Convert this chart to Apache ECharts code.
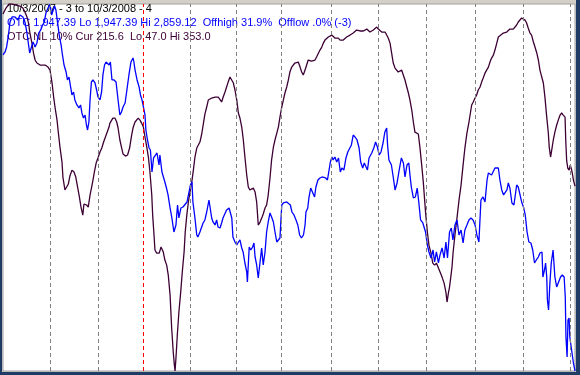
<!DOCTYPE html>
<html><head><meta charset="utf-8">
<script src="https://cdn.jsdelivr.net/npm/echarts@6/dist/echarts.min.js"></script>
<style>
html,body{margin:0;padding:0;width:580px;height:375px;overflow:hidden;background:#1f3c66;}
#frame{position:absolute;left:2px;top:0;width:574px;height:372px;background:#d4d0c8;}
#chart{position:absolute;left:0;top:0;width:580px;height:375px;}
</style></head><body>
<div id="frame"></div>
<div id="chart"></div>
<script>
// Header texts
const headerLines = [
  "10/3/2007 - 3 to 10/3/2008 - 4",
  "OTC 1,947.39 Lo 1,947.39 Hi 2,859.12  Offhigh 31.9%  Offlow .0% (-3)",
  "OTC NL 10% Cur 215.6  Lo 47.0 Hi 353.0"
];
// Trading-day index (0 = 10/3/2007, 253 = 10/3/2008)
const dayMin = 0, dayMax = 253;
// Month boundaries (trading-day index); Jan 2 2008 is the year line
const monthStarts = [21, 42, 62, 83, 103, 123, 145, 166, 187, 209, 230, 251];
const yearStart = 62;
// Scale ranges
const otcLo = 1947.39, otcHi = 2859.12;
const nlLo = 47.0, nlHi = 353.0;

// OTC (Nasdaq composite) close: [day, value]
const otcClose = [[0,2732.5],[0.9,2739.9],[1.6,2752.4],[2.3,2777.2],[3.1,2814.5],[4.0,2826.9],[5.3,2826.9],[6.6,2819.4],[7.5,2831.8],[8.8,2826.9],[9.7,2814.5],[10.6,2787.1],[11.8,2737.4],[12.6,2752.4],[13.3,2764.8],[14.2,2752.4],[15.0,2762.3],[15.8,2787.1],[16.7,2794.6],[17.5,2807.0],[18.3,2814.5],[19.0,2836.8],[19.9,2849.2],[20.8,2859.1],[21.5,2831.8],[22.1,2826.9],[22.8,2854.2],[23.4,2844.3],[24.1,2814.5],[25.0,2777.2],[25.7,2757.4],[26.3,2732.5],[27.0,2707.6],[27.9,2690.2],[28.5,2670.4],[29.2,2677.8],[29.9,2653.0],[30.5,2633.1],[31.2,2640.5],[31.8,2620.7],[32.7,2608.3],[33.6,2600.8],[34.3,2608.3],[34.9,2588.4],[35.6,2576.0],[36.3,2583.4],[36.9,2558.6],[37.4,2546.1],[38.0,2566.0],[38.5,2620.7],[39.1,2665.4],[39.8,2670.4],[40.7,2662.9],[41.4,2645.5],[42.0,2628.1],[42.9,2620.7],[43.6,2640.5],[44.2,2682.8],[44.9,2707.6],[45.6,2715.1],[46.2,2715.1],[46.9,2707.6],[47.5,2715.1],[48.2,2670.4],[49.1,2670.4],[50.0,2665.4],[50.9,2620.7],[51.7,2583.4],[52.4,2590.9],[53.1,2603.3],[54.0,2613.2],[54.8,2645.5],[55.7,2682.8],[56.6,2715.1],[57.5,2725.0],[57.9,2715.1],[58.4,2695.2],[59.3,2670.4],[60.2,2653.0],[60.8,2633.1],[61.5,2620.7],[62.1,2603.3],[62.8,2583.4],[63.2,2546.1],[63.9,2521.3],[64.6,2501.4],[65.2,2496.4],[65.9,2441.8],[66.6,2476.6],[67.2,2479.1],[68.1,2489.0],[69.0,2459.2],[69.4,2484.0],[70.3,2441.8],[71.6,2417.0],[72.3,2402.0],[73.0,2384.7],[73.9,2352.4],[74.7,2327.5],[75.6,2292.7],[76.5,2310.1],[77.2,2359.8],[77.8,2327.5],[78.7,2352.4],[79.6,2354.9],[81.4,2367.3],[82.3,2392.1],[82.9,2409.5],[83.6,2417.0],[84.0,2367.3],[84.9,2327.5],[85.7,2285.3],[86.2,2280.3],[87.1,2292.7],[88.5,2315.1],[89.3,2322.6],[90.1,2342.4],[91.1,2372.2],[92.3,2327.5],[92.9,2317.6],[93.8,2310.1],[94.5,2322.6],[95.1,2305.2],[96.0,2302.7],[96.7,2315.1],[97.3,2327.5],[98.9,2347.4],[100.0,2352.4],[101.2,2327.5],[101.7,2280.3],[102.6,2267.9],[103.4,2260.4],[103.9,2265.4],[104.8,2272.9],[105.6,2253.0],[106.2,2243.1],[107.0,2215.7],[107.8,2193.4],[108.1,2168.5],[108.9,2255.5],[109.6,2248.0],[110.4,2255.5],[111.0,2265.4],[111.5,2230.6],[112.2,2210.8],[112.9,2178.5],[113.4,2203.3],[114.4,2253.0],[115.1,2210.8],[115.9,2243.1],[116.6,2292.7],[117.3,2317.6],[118.1,2339.9],[118.8,2330.0],[119.6,2317.6],[120.3,2292.7],[121.1,2267.9],[121.8,2265.4],[122.5,2277.8],[123.3,2359.8],[124.0,2364.8],[125.5,2367.3],[126.2,2372.2],[127.1,2359.8],[127.8,2342.4],[128.7,2335.0],[129.6,2322.6],[130.4,2310.1],[131.2,2285.3],[132.0,2277.8],[132.9,2285.3],[133.6,2310.1],[134.0,2342.4],[134.8,2352.4],[135.3,2377.2],[136.1,2402.0],[136.9,2404.5],[137.8,2379.7],[138.4,2404.5],[139.3,2421.9],[140.2,2426.9],[141.1,2429.4],[142.7,2426.9],[143.5,2421.9],[144.2,2417.0],[144.8,2466.6],[145.5,2479.1],[146.0,2471.6],[146.8,2479.1],[147.6,2466.6],[148.4,2476.6],[149.2,2441.8],[149.9,2451.7],[150.8,2446.8],[151.7,2476.6],[152.5,2491.5],[153.3,2496.4],[154.1,2508.9],[154.9,2533.7],[155.7,2528.7],[156.6,2521.3],[157.5,2501.4],[158.2,2466.6],[159.1,2451.7],[159.8,2464.2],[160.6,2454.2],[161.2,2446.8],[161.9,2476.6],[163.1,2489.0],[164.0,2501.4],[164.8,2516.3],[165.6,2503.9],[166.4,2484.0],[167.2,2491.5],[168.1,2513.8],[168.9,2541.2],[169.7,2551.1],[170.1,2508.9],[170.7,2471.6],[171.8,2459.2],[172.6,2429.4],[173.4,2397.1],[174.3,2414.5],[175.1,2441.8],[176.2,2476.6],[177.1,2464.2],[177.8,2429.4],[178.7,2459.2],[179.5,2464.2],[180.0,2434.4],[180.6,2404.5],[181.5,2377.2],[182.4,2379.7],[183.2,2402.0],[183.9,2367.3],[184.7,2322.6],[185.7,2315.1],[186.9,2292.7],[187.7,2260.4],[188.4,2243.1],[189.3,2228.1],[190.2,2248.0],[190.9,2218.2],[191.7,2243.1],[192.6,2215.7],[193.3,2235.6],[194.2,2253.0],[195.1,2228.1],[195.9,2267.9],[196.6,2228.1],[197.5,2292.7],[198.3,2302.7],[199.0,2272.9],[199.9,2310.1],[200.8,2322.6],[201.7,2285.3],[202.6,2297.7],[203.5,2265.4],[204.3,2297.7],[205.2,2310.1],[206.1,2322.6],[207.0,2327.5],[207.9,2322.6],[208.8,2310.1],[209.6,2285.3],[210.5,2267.9],[211.4,2372.2],[212.3,2379.7],[213.2,2367.3],[214.1,2421.9],[214.7,2439.3],[215.4,2441.8],[216.1,2434.4],[216.9,2439.3],[217.6,2451.7],[218.4,2454.2],[219.1,2451.7],[219.8,2421.9],[220.6,2397.1],[221.4,2384.7],[222.0,2389.6],[222.9,2397.1],[223.5,2414.5],[224.2,2402.0],[225.1,2364.8],[226.0,2359.8],[227.2,2409.5],[227.9,2404.5],[229.4,2367.3],[230.2,2354.9],[231.0,2335.0],[231.8,2292.7],[232.6,2267.9],[233.5,2265.4],[234.3,2248.0],[235.1,2215.7],[235.9,2223.2],[236.8,2230.6],[237.5,2240.6],[238.4,2243.1],[238.8,2180.9],[239.5,2198.3],[240.0,2215.7],[240.5,2180.9],[240.8,2123.8],[241.3,2099.0],[241.9,2166.0],[242.5,2215.7],[243.3,2248.0],[244.1,2180.9],[244.9,2156.1],[245.7,2153.6],[246.6,2180.9],[247.4,2185.9],[248.2,2180.9],[248.7,2131.3],[249.0,2031.9],[249.5,1982.2],[249.9,2074.1],[250.4,2079.1],[250.7,2031.9],[251.5,1999.6],[252.3,1967.3],[253,1947.39]];

// OTC NL 10%: [day, value]
const otcNl10 = [[0,344.6],[1.3,349.6],[2.7,353],[4.0,353],[5.7,352.1],[7.5,351.3],[8.8,349.6],[9.7,346.3],[10.6,342.1],[11.3,337.1],[11.9,328.8],[12.8,320.4],[13.5,312.1],[14.2,306.3],[15.0,303.8],[16.4,302.1],[18.6,302.1],[19.9,300.4],[20.8,297.9],[21.7,287.1],[22.4,275.4],[23.0,267.1],[23.9,256.2],[24.5,245.4],[25.2,233.7],[26.1,221.2],[26.5,208.7],[27.4,197.9],[28.2,198.7],[28.9,202.9],[29.6,209.6],[30.5,214.5],[31.4,212.9],[32.2,208.7],[33.0,200.4],[33.8,192.0],[34.5,183.7],[35.3,177.0],[35.8,186.2],[37.0,185.4],[37.7,183.7],[38.5,193.7],[39.2,200.4],[39.8,206.2],[40.4,212.9],[41.2,220.4],[42.0,224.6],[42.9,229.6],[43.7,232.9],[44.5,237.9],[45.3,242.1],[46.1,246.2],[46.9,250.4],[47.3,253.7],[48.6,257.9],[49.5,257.9],[50.3,254.6],[50.9,249.6],[51.7,239.6],[52.5,232.9],[53.1,227.9],[54.2,226.2],[55.1,227.1],[56.0,232.9],[56.9,243.7],[57.5,249.6],[58.4,254.6],[59.8,257.9],[60.6,256.2],[61.3,253.7],[62.1,250.4],[62.8,242.1],[63.6,233.7],[64.3,225.4],[65.0,212.9],[65.8,193.7],[66.2,177.0],[66.8,160.4],[67.2,147.9],[68.0,145.3],[69.1,145.3],[69.9,150.4],[70.6,152.0],[70.9,146.2],[71.6,139.5],[72.4,135.3],[73.1,127.0],[73.9,110.3],[74.6,82.8],[75.3,62.8],[75.8,51.9],[76.1,47.0],[76.5,57.8],[77.1,77.0],[77.8,96.2],[78.6,112.8],[79.3,129.5],[80.1,146.2],[80.6,162.9],[81.3,177.0],[82.0,187.9],[82.7,196.2],[83.5,204.5],[84.2,214.5],[84.9,225.4],[85.7,232.9],[87.1,237.9],[87.9,244.6],[88.6,252.9],[89.3,261.2],[90.1,267.1],[90.8,272.9],[92.3,274.6],[93.8,275.4],[95.2,275.4],[96.0,274.6],[96.7,271.3],[97.4,275.4],[98.2,279.6],[98.9,283.8],[99.6,287.9],[100.4,292.1],[101.2,291.3],[101.9,287.1],[102.6,281.3],[103.4,272.9],[104.1,262.1],[104.8,257.9],[105.6,250.4],[106.3,239.6],[107.0,225.4],[107.8,210.4],[108.5,200.4],[109.2,197.9],[110.0,198.7],[110.7,199.5],[111.5,196.2],[112.2,187.9],[112.9,168.7],[113.7,171.2],[114.6,175.4],[115.1,177.9],[115.9,182.9],[116.6,185.4],[117.3,193.7],[118.1,207.9],[118.8,222.9],[119.6,233.7],[120.3,239.6],[121.1,245.4],[121.8,250.4],[122.5,258.7],[123.3,267.1],[124.0,272.9],[124.7,278.8],[125.5,283.8],[126.2,289.6],[126.9,296.3],[127.7,300.4],[129.1,303.8],[130.6,304.6],[131.4,300.4],[132.1,296.3],[132.8,293.8],[133.6,297.9],[134.3,302.1],[135.0,306.3],[135.8,307.9],[136.5,305.4],[137.2,304.6],[138.0,306.3],[138.7,308.8],[139.5,310.4],[140.2,314.6],[141.0,317.1],[141.7,320.4],[142.4,322.9],[143.9,325.5],[145.4,327.1],[146.8,324.6],[148.3,324.6],[149.1,322.9],[149.8,321.3],[150.5,322.9],[152.0,325.5],[153.5,327.1],[154.9,328.8],[156.4,331.3],[157.1,332.1],[157.9,330.5],[158.7,329.6],[159.4,330.5],[160.9,332.1],[162.3,329.6],[163.8,331.3],[165.3,333.8],[166.0,332.1],[167.5,329.6],[169.0,329.6],[169.7,328.8],[170.4,324.6],[171.2,320.4],[171.9,312.1],[172.6,303.8],[173.4,299.6],[174.8,296.3],[175.6,296.3],[176.3,297.9],[177.1,296.3],[177.8,289.6],[178.6,283.8],[179.3,278.8],[180.0,272.9],[180.8,264.6],[181.5,254.6],[182.2,246.2],[183.7,244.6],[184.4,233.7],[185.2,218.7],[185.9,204.5],[186.9,179.5],[187.7,162.9],[188.4,152.0],[189.3,145.3],[190.1,137.0],[190.9,135.3],[191.7,137.0],[192.6,132.8],[193.4,131.2],[194.2,125.3],[195.1,120.3],[195.9,112.8],[196.4,104.5],[197.0,112.0],[197.5,117.0],[198.0,124.5],[198.6,133.7],[199.1,146.2],[199.9,160.4],[200.8,174.5],[201.7,189.5],[202.6,202.0],[203.5,218.7],[204.3,232.9],[205.2,245.4],[206.1,254.6],[207.3,268.8],[208.0,271.3],[208.8,274.6],[209.5,277.1],[210.2,281.3],[211.0,283.8],[211.7,287.9],[212.4,291.3],[213.2,295.4],[213.9,297.9],[214.7,300.4],[215.4,304.6],[216.1,307.9],[216.9,310.4],[217.6,314.6],[218.4,320.4],[219.1,325.5],[219.8,327.1],[221.3,328.8],[222.8,329.6],[224.2,332.1],[225.7,332.1],[226.5,333.0],[227.2,335.5],[227.9,338.0],[228.7,339.6],[229.4,341.3],[230.1,342.1],[230.9,339.6],[231.6,337.1],[232.3,333.0],[233.1,328.8],[233.8,327.1],[234.6,321.3],[235.3,317.1],[236.1,312.1],[236.8,306.3],[237.5,297.9],[238.3,292.1],[239.0,287.1],[239.7,275.4],[240.5,258.7],[241.2,245.4],[241.6,233.7],[242.2,225.4],[242.7,231.2],[243.4,239.6],[244.1,246.2],[244.9,252.1],[245.6,256.2],[246.4,260.4],[247.1,262.1],[247.8,260.4],[248.6,258.7],[248.9,239.6],[249.3,222.9],[249.8,216.2],[250.4,214.5],[250.9,218.7],[251.3,216.2],[251.8,212.1],[252.3,206.2],[253,201.2]];

const colors = { otc: '#0000ff', nl: '#3c0034', grid: '#808080', year: '#ff0000', title: '#000000' };
const font = '11px "Liberation Sans", Arial, sans-serif';

const chart = echarts.init(document.getElementById('chart'), null, { renderer: 'canvas' });
const hiddenAxis = { show: false, splitLine: { show: false } };
chart.setOption({
  animation: false,
  backgroundColor: 'transparent',
  grid: { left: 3, right: 5, top: 4, bottom: 4, show: true, backgroundColor: '#ffffff', borderColor: '#a0a0a0', borderWidth: 1, z: 0 },
  xAxis: Object.assign({ type: 'value', min: dayMin, max: dayMax }, hiddenAxis),
  yAxis: [
    Object.assign({ type: 'value', min: otcLo, max: otcHi }, hiddenAxis),
    Object.assign({ type: 'value', min: nlLo, max: nlHi }, hiddenAxis)
  ],
  graphic: headerLines.map((t, i) => ({
    type: 'text', x: 7, y: 3 + i * 14, z: 1,
    style: { text: t, fill: [colors.title, colors.otc, colors.nl][i], font: font, textVerticalAlign: 'top' }
  })),
  series: [
    {
      type: 'line', data: [], z: 1, silent: true,
      markLine: {
        silent: true, symbol: ['none', 'none'], animation: false,
        label: { show: false },
        data: monthStarts.map(d => ({
          xAxis: d,
          lineStyle: { color: d === yearStart ? colors.year : colors.grid, type: [4, 3], width: 1 }
        }))
      }
    },
    {
      name: 'OTC NL 10%', type: 'line', yAxisIndex: 1, data: otcNl10, showSymbol: false, z: 2,
      lineStyle: { color: colors.nl, width: 1.3 }, clip: true
    },
    {
      name: 'OTC', type: 'line', yAxisIndex: 0, data: otcClose, showSymbol: false, z: 3,
      lineStyle: { color: colors.otc, width: 1.3 }, clip: true
    }
  ]
});
</script>
</body></html>
